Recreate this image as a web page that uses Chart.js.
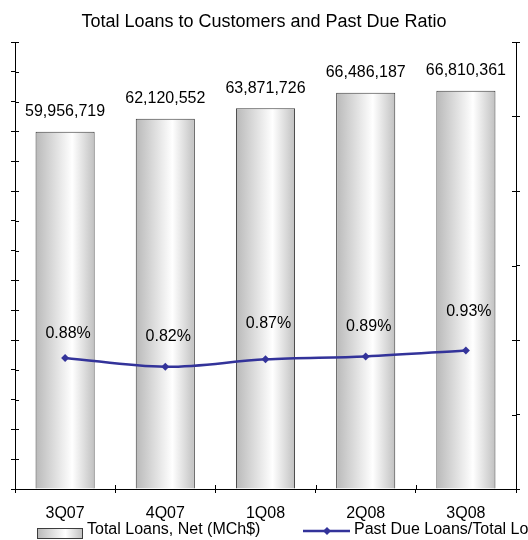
<!DOCTYPE html>
<html>
<head>
<meta charset="utf-8">
<script src="https://cdn.jsdelivr.net/npm/chart.js@4/dist/chart.umd.min.js"></script>
<style>
  html, body { margin: 0; padding: 0; background: #fff; }
  #wrap { width: 528px; height: 540px; }
</style>
</head>
<body>
<div id="wrap"><canvas id="c" width="528" height="540"></canvas></div>
<script>
// Quarters on the category axis
const quarters = ['3Q07', '4Q07', '1Q08', '2Q08', '3Q08'];
// Total loans, net (MCh$)
const totalLoans = [59956719, 62120552, 63871726, 66486187, 66810361];
// Past due loans / total loans (%)
const pastDueRatio = [0.88, 0.82, 0.87, 0.89, 0.93];

// Series names
const barName = 'Total Loans, Net (MCh$)';
const lineName = 'Past Due Loans/Total Loans';

// Vertical lift (px) of each ratio label above its point
const ratioLabelLift = [24, 30, 36, 30, 39];

const FONT = '"Liberation Sans", Arial, Helvetica, sans-serif';
const LINE_COLOR = '#33339a';
const BAR_BORDER = '#3c3c3c';

function silverGradient(ctx, x0, x1) {
  const g = ctx.createLinearGradient(x0, 0, x1, 0);
  g.addColorStop(0, '#b9b9b9');
  g.addColorStop(0.62, '#ffffff');
  g.addColorStop(1, '#c0c0c0');
  return g;
}

const fmtInt = v => v.toLocaleString('en-US');

// Per-bar horizontal shading
const barShading = {
  id: 'barShading',
  beforeDatasetDraw(chart, args) {
    const meta = args.meta;
    if (meta.type !== 'bar') return;
    const ctx = chart.ctx;
    meta.data.forEach(el => {
      const x0 = el.x - el.width / 2, x1 = el.x + el.width / 2;
      el.options = Object.assign({}, el.options, { backgroundColor: silverGradient(ctx, x0, x1) });
    });
  }
};

// Tick marks crossing the axis lines (inner halves)
const innerTicks = {
  id: 'innerTicks',
  afterDraw(chart) {
    const ctx = chart.ctx;
    const { x, y, y1 } = chart.scales;
    const L = 4;
    ctx.save();
    ctx.strokeStyle = '#000';
    ctx.lineWidth = 1;
    ctx.beginPath();
    y.ticks.forEach((t, i) => {
      const py = Math.round(y.getPixelForTick(i)) + 0.5;
      ctx.moveTo(y.right, py); ctx.lineTo(y.right + L, py);
    });
    y1.ticks.forEach((t, i) => {
      const py = Math.round(y1.getPixelForTick(i)) + 0.5;
      ctx.moveTo(y1.left - L, py); ctx.lineTo(y1.left, py);
    });
    const n = quarters.length;
    const w = (x.right - x.left) / n;
    for (let i = 0; i <= n; i++) {
      const px = Math.round(x.left + i * w) + 0.5;
      ctx.moveTo(px, x.top - L); ctx.lineTo(px, x.top);
    }
    ctx.stroke();
    ctx.restore();
  }
};

// Value labels for bars and ratio points
const valueLabels = {
  id: 'valueLabels',
  afterDatasetsDraw(chart) {
    const ctx = chart.ctx;
    ctx.save();
    ctx.font = '16px ' + FONT;
    ctx.fillStyle = '#000';
    ctx.textAlign = 'center';
    ctx.textBaseline = 'middle';
    const barMeta = chart.getDatasetMeta(0);
    barMeta.data.forEach((el, i) => {
      ctx.fillText(fmtInt(totalLoans[i]), el.x, el.y - 20);
    });
    const lineMeta = chart.getDatasetMeta(1);
    lineMeta.data.forEach((el, i) => {
      ctx.fillText(pastDueRatio[i].toFixed(2) + '%', el.x + 3, el.y - ratioLabelLift[i]);
    });
    ctx.restore();
  }
};

// Legend row along the bottom edge
const bottomLegend = {
  id: 'bottomLegend',
  afterDraw(chart) {
    const ctx = chart.ctx;
    ctx.save();
    // bar swatch
    const bx = 37.5, by = 528.5, bw = 45, bh = 10;
    ctx.fillStyle = silverGradient(ctx, bx, bx + bw);
    ctx.fillRect(bx, by, bw, bh);
    ctx.strokeStyle = BAR_BORDER;
    ctx.lineWidth = 1;
    ctx.strokeRect(bx, by, bw, bh);
    ctx.font = '16px ' + FONT;
    ctx.fillStyle = '#000';
    ctx.textBaseline = 'alphabetic';
    ctx.textAlign = 'left';
    ctx.fillText(barName, 87, 534);
    // line swatch
    ctx.strokeStyle = LINE_COLOR;
    ctx.lineWidth = 2.5;
    ctx.beginPath();
    ctx.moveTo(303, 531); ctx.lineTo(350, 531);
    ctx.stroke();
    ctx.fillStyle = LINE_COLOR;
    ctx.beginPath();
    ctx.moveTo(327, 527); ctx.lineTo(331, 531); ctx.lineTo(327, 535); ctx.lineTo(323, 531);
    ctx.closePath();
    ctx.fill();
    ctx.fillStyle = '#000';
    ctx.fillText(lineName, 354, 534);
    ctx.restore();
  }
};

new Chart(document.getElementById('c'), {
  data: {
    labels: quarters,
    datasets: [
      {
        type: 'bar',
        label: barName,
        data: totalLoans,
        yAxisID: 'y',
        backgroundColor: '#e0e0e0',
        borderColor: BAR_BORDER,
        borderWidth: 1,
        borderSkipped: 'bottom',
        barPercentage: 0.59,
        categoryPercentage: 1.0,
        order: 2
      },
      {
        type: 'line',
        label: lineName,
        data: pastDueRatio,
        yAxisID: 'y1',
        borderColor: LINE_COLOR,
        backgroundColor: LINE_COLOR,
        borderWidth: 2.5,
        tension: 0.35,
        pointStyle: 'rectRot',
        pointRadius: 4,
        pointBorderWidth: 0,
        fill: false,
        order: 1
      }
    ]
  },
  options: {
    responsive: false,
    animation: false,
    events: [],
    layout: { padding: 0 },
    plugins: {
      legend: { display: false },
      tooltip: { enabled: false },
      title: {
        display: true,
        text: 'Total Loans to Customers and Past Due Ratio',
        color: '#000',
        font: { family: FONT, size: 18, weight: 'normal' },
        padding: { top: 11, bottom: 9.4 }
      }
    },
    scales: {
      x: {
        offset: true,
        grid: { display: true, offset: true, drawOnChartArea: false, drawTicks: true, tickLength: 4, color: '#000' },
        border: { display: true, color: '#000', width: 1 },
        ticks: { color: '#000', font: { family: FONT, size: 16 }, padding: 11, maxRotation: 0 },
        afterFit(s) { s.height = 51; }
      },
      y: {
        position: 'left',
        min: 0,
        max: 75000000,
        ticks: { stepSize: 5000000, display: false },
        grid: { drawOnChartArea: false, drawTicks: true, tickLength: 4, color: '#000' },
        border: { display: true, color: '#000', width: 1 },
        afterFit(s) { s.width = 15; }
      },
      y1: {
        position: 'right',
        min: 0,
        max: 3,
        ticks: { stepSize: 0.5, display: false },
        grid: { drawOnChartArea: false, drawTicks: true, tickLength: 4, color: '#000' },
        border: { display: true, color: '#000', width: 1 },
        afterFit(s) { s.width = 12; }
      }
    }
  },
  plugins: [barShading, innerTicks, valueLabels, bottomLegend]
});
</script>
</body>
</html>
